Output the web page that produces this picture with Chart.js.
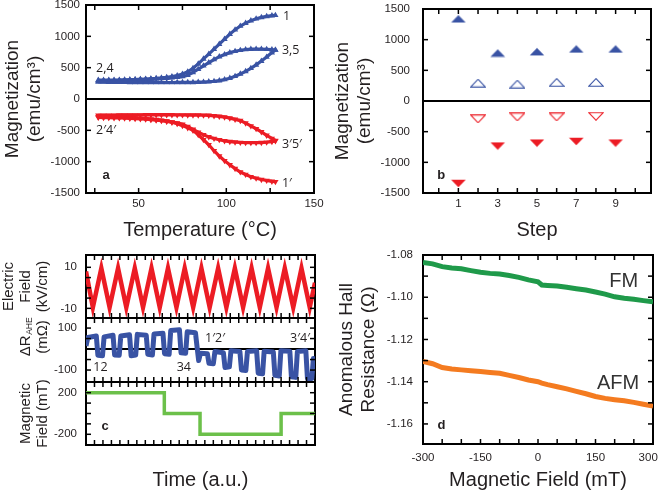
<!DOCTYPE html>
<html><head><meta charset="utf-8">
<script src="https://cdn.jsdelivr.net/npm/chart.js@4"></script>
<style>
body{margin:0;background:#fff;width:660px;height:492px;position:relative;overflow:hidden}
canvas{position:absolute}
</style></head><body>
<canvas id="ca" width="330" height="246" style="left:0;top:0"></canvas>
<canvas id="cb" width="330" height="246" style="left:330px;top:0"></canvas>
<canvas id="cc1" width="330" height="70" style="left:0;top:250px"></canvas>
<canvas id="cc2" width="330" height="73" style="left:0;top:313px"></canvas>
<canvas id="cc3" width="330" height="115" style="left:0;top:377px"></canvas>
<canvas id="cd" width="330" height="246" style="left:330px;top:246px"></canvas>
<script>
// ---------- Panel a data ----------
const aTemp = [27,30,33,36,39,42,45,48,51,54,57,60,63,66,69,72,75,78,81,84,87,90,93,96,99,102,105,108,111,114,117,120,123,126,128];
const aBlue1 = [290,291,293,295,298,301,304,308,312,316,322,328,336,346,358,375,398,435,490,560,640,715,795,875,955,1035,1105,1165,1210,1250,1280,1302,1318,1330,1336];
const aBlue35Upper = [300,300,301,302,303,305,307,309,312,315,318,322,327,333,340,348,358,380,425,475,530,580,630,675,710,740,762,778,790,796,798,797,794,788,782];
const aBlue35Lower = [272,271,270,269,268,267,266,265,265,264,264,263,263,263,263,264,264,265,266,268,271,276,283,294,310,332,362,400,440,490,545,605,670,740,782];
const aRed1 = [-285,-286,-288,-290,-292,-295,-298,-302,-307,-313,-320,-328,-338,-352,-370,-395,-425,-460,-500,-570,-650,-730,-825,-910,-985,-1050,-1110,-1165,-1205,-1240,-1265,-1285,-1300,-1315,-1320];
const aRed35Lower = [-295,-296,-298,-300,-302,-305,-308,-312,-317,-323,-330,-338,-346,-356,-368,-382,-405,-440,-485,-530,-570,-605,-630,-650,-668,-680,-688,-694,-697,-698,-698,-696,-690,-680,-668];
const aRed35Upper = [-262,-261,-260,-259,-258,-257,-256,-255,-255,-254,-254,-254,-254,-254,-254,-255,-255,-256,-257,-258,-259,-262,-268,-276,-288,-305,-325,-345,-385,-430,-475,-525,-580,-630,-662];
const aXTicks = [25,50,75,100,125,150];
const aXLabels = [50,100,150];
const magTicks = [-1500,-1000,-500,0,500,1000,1500];
const aNoteText = ['1','3,5','2,4','2′4′','3′5′','1′'];
const aNoteX = [132.3,131.7,25.7,25.7,131.7,131.7];
const aNoteY = [1324,781,494,-494,-718,-1340];

// ---------- Panel b data ----------
const bStepsFilled = [1,3,5,7,9];
const bBlueFilled = [1340,782,803,848,848];
const bRedFilled = [-1345,-734,-686,-660,-686];
const bStepsOpen = [2,4,6,8];
const bBlueOpen = [292,276,303,303];
const bRedOpen = [-292,-260,-260,-250];
const bXTicks = [0,1,2,3,4,5,6,7,8,9,10];
const bXLabels = [1,3,5,7,9];

// ---------- Panel c data ----------
const eTime = [0,0.030,0.067,0.103,0.140,0.176,0.213,0.249,0.286,0.322,0.358,0.395,0.431,0.468,0.504,0.540,0.577,0.613,0.650,0.686,0.723,0.759,0.795,0.832,0.868,0.905,0.941,0.977,1.0];
const eField = [8,-9.5,9.5,-9.5,9.5,-9.5,9.5,-9.5,9.5,-9.5,9.5,-9.5,9.5,-9.5,9.5,-9.5,9.5,-9.5,9.5,-9.5,9.5,-9.5,9.5,-9.5,9.5,-9.5,9.5,-9.5,2.5];
const rTime = [0,0.008,0.045,0.052,0.072,0.079,0.118,0.125,0.145,0.152,0.190,0.197,0.217,0.224,0.263,0.270,0.290,0.297,0.336,0.343,0.363,0.370,0.408,0.415,0.435,0.442,0.478,0.486,0.492,0.500,0.530,0.537,0.556,0.563,0.600,0.607,0.626,0.633,0.672,0.679,0.698,0.705,0.745,0.752,0.771,0.778,0.818,0.825,0.844,0.851,0.890,0.897,0.916,0.923,0.960,0.967,0.986,0.993,1.0];
const rAHE = [15,55,62,-30,-32,58,66,-28,-30,62,68,-32,-28,70,66,-25,-28,72,75,-22,-25,88,92,-18,-20,82,78,0,-55,-20,-22,-68,-70,-12,-18,-88,-85,-8,-12,-100,-102,-12,-8,-115,-118,-10,-14,-125,-128,-8,-10,-132,-135,-12,-8,-140,-140,-45,-95];
const bTime = [0,0.342,0.342,0.498,0.498,0.852,0.852,1.0];
const bField = [200,200,0,0,-200,-200,0,0];
const tTicks = [0.037,0.074,0.111,0.148,0.185,0.222,0.259,0.296,0.333,0.370,0.407,0.444,0.481,0.519,0.556,0.593,0.630,0.667,0.704,0.741,0.778,0.815,0.852,0.889,0.926,0.963];
const eTicks = [-10,-5,0,5,10];
const eLabels = [-10,10];
const rTicks = [-150,-100,-50,0,50,100];
const rLabels = [-100,100];
const fTicks = [-300,-200,-100,0,100,200,300];
const fLabels = [-200,200];
const cNoteText = ['12','34','1′2′','3′4′'];
const cNoteX = [0.032,0.396,0.52,0.891];
const cNoteY = [-87,-87,49,49];

// ---------- Panel d data ----------
const dField = [-300,-275,-250,-225,-200,-175,-150,-125,-100,-75,-50,-25,0,10,25,50,75,100,125,150,175,200,225,250,275,300];
const dFM = [-1.0835,-1.0842,-1.0855,-1.0862,-1.0865,-1.0874,-1.0882,-1.0887,-1.0890,-1.0897,-1.0906,-1.0918,-1.0927,-1.0942,-1.0944,-1.0947,-1.0953,-1.0960,-1.0966,-1.0975,-1.0985,-1.0998,-1.1005,-1.1010,-1.1016,-1.1022];
const dAFM = [-1.1304,-1.1315,-1.1333,-1.1340,-1.1344,-1.1348,-1.1352,-1.1356,-1.1360,-1.1370,-1.1380,-1.1392,-1.1400,-1.1407,-1.1414,-1.1424,-1.1434,-1.1446,-1.1457,-1.1470,-1.1479,-1.1485,-1.1490,-1.1498,-1.1507,-1.1515];
const dXTicks = [-300,-250,-200,-150,-100,-50,0,50,100,150,200,250,300];
const dXLabels = [-300,-150,0,150,300];
const dYTicks = [-1.16,-1.15,-1.14,-1.13,-1.12,-1.11,-1.10,-1.09,-1.08];
const dYLabels = [-1.16,-1.14,-1.12,-1.10,-1.08];

// ---------- styling ----------
const FF = '"Liberation Sans", Arial, Helvetica, sans-serif';
const NF = '"Open Sans", "Liberation Sans", sans-serif';
const TXT = '#231f20';
const BLUE = '#3953a4', RED = '#ec1c24', GREEN_C = '#6cc04a', GREEN_D = '#1f9a4a', ORANGE = '#f47b20';
Chart.defaults.font.family = FF;
Chart.defaults.color = TXT;
Chart.defaults.animation = false;

const pts = (xs, ys) => xs.map((x, i) => ({x: x, y: ys[i]}));

function mkAxis(o) {
  const isX = o.pos === 'top' || o.pos === 'bottom';
  const zero = !!o.zero;
  return {
    type: 'linear', axis: isX ? 'x' : 'y', position: o.pos, min: o.min, max: o.max,
    afterBuildTicks: ax => { ax.ticks = o.ticks.map(v => ({value: v})); },
    afterFit: ax => {
      if (isX) ax.height = o.size; else ax.width = o.size;
      ax.paddingTop = 0; ax.paddingBottom = 0; ax.paddingLeft = 0; ax.paddingRight = 0;
    },
    border: {display: true, color: '#000', width: 2},
    grid: {
      display: true, drawTicks: false,
      drawOnChartArea: zero,
      color: zero ? (c => (c.tick && c.tick.value === 0) ? '#000' : 'rgba(0,0,0,0)') : 'rgba(0,0,0,0)',
      lineWidth: zero ? (c => (c.tick && c.tick.value === 0) ? 2 : 0) : 1
    },
    ticks: {
      display: !!o.labels, autoSkip: false, maxRotation: 0, minRotation: 0,
      padding: o.pad || 0, color: TXT, font: {size: 11.5, family: FF},
      callback: v => (o.labels && o.labels.includes(v)) ? o.fmt(v) : ''
    },
    title: o.title || {display: false}
  };
}

// inward tick marks on all four sides, placed with each scale's own ticks
const inTicksPlugin = {
  id: 'inTicks',
  afterDraw(chart) {
    const ctx = chart.ctx, a = chart.chartArea, L = 5;
    ctx.save();
    ctx.strokeStyle = '#000'; ctx.lineWidth = 1.5; ctx.lineCap = 'butt';
    for (const key of Object.keys(chart.scales)) {
      const s = chart.scales[key];
      const pos = s.options.position;
      for (const t of s.ticks) {
        const p = s.getPixelForValue(t.value);
        if (pos === 'bottom' || pos === 'top') {
          if (p < a.left + 1.5 || p > a.right - 1.5) continue;
          const y0 = pos === 'bottom' ? a.bottom : a.top;
          const dir = pos === 'bottom' ? -1 : 1;
          ctx.beginPath(); ctx.moveTo(p, y0); ctx.lineTo(p, y0 + dir * L); ctx.stroke();
        } else {
          if (p < a.top + 1.5 || p > a.bottom - 1.5) continue;
          const x0 = pos === 'left' ? a.left : a.right;
          const dir = pos === 'left' ? 1 : -1;
          ctx.beginPath(); ctx.moveTo(x0, p); ctx.lineTo(x0 + dir * L, p); ctx.stroke();
        }
      }
    }
    ctx.restore();
  }
};

const textPlugin = {
  id: 'texts',
  afterDatasetsDraw(chart, args, opts) {
    const ctx = chart.ctx, xs = chart.scales.x, ys = chart.scales.y;
    (opts.items || []).forEach(it => {
      ctx.save();
      ctx.font = it.font; ctx.fillStyle = it.color || TXT;
      ctx.textAlign = it.align || 'left'; ctx.textBaseline = 'middle';
      ctx.fillText(it.text, xs.getPixelForValue(it.x), ys.getPixelForValue(it.y));
      ctx.restore();
    });
  }
};

function baseOptions(padding, scales, items) {
  return {
    responsive: false, animation: false,
    layout: {padding: padding},
    plugins: {legend: {display: false}, tooltip: {enabled: false}, texts: {items: items || []}},
    scales: scales
  };
}

const str = v => String(v);

// ---------- Panel a ----------
const aItems = aNoteText.map((t, i) => ({text: t, x: aNoteX[i], y: aNoteY[i], font: '12.5px ' + NF}));
aItems.push({text: 'a', x: 31.4, y: -1212, font: 'bold 13px ' + FF, align: 'center'});
function curve(ys, color, down) {
  return {data: pts(aTemp, ys), borderColor: color, backgroundColor: color, borderWidth: 3.2,
    pointStyle: 'triangle', pointRadius: 3.6, pointRotation: down ? 180 : 0, pointBorderWidth: 0,
    pointBackgroundColor: color, tension: 0};
}
new Chart(document.getElementById('ca'), {
  type: 'line',
  data: {datasets: [
    curve(aBlue35Lower, BLUE), curve(aBlue35Upper, BLUE), curve(aBlue1, BLUE),
    curve(aRed35Upper, RED, true), curve(aRed35Lower, RED, true), curve(aRed1, RED, true)
  ]},
  options: baseOptions({left: 0, top: 5, right: 16, bottom: 0}, {
    x: mkAxis({pos: 'bottom', min: 20, max: 150, ticks: aXTicks, labels: aXLabels, fmt: str, size: 53, pad: 4,
      title: {display: true, text: 'Temperature (°C)', color: TXT, font: {size: 20, family: FF, lineHeight: 1.2}, padding: {top: 0, bottom: 4}}}),
    x2: mkAxis({pos: 'top', min: 20, max: 150, ticks: aXTicks, size: 0}),
    y: mkAxis({pos: 'left', min: -1500, max: 1500, ticks: magTicks, labels: magTicks, fmt: str, size: 86, pad: 6, zero: true,
      title: {display: true, text: ['Magnetization', '(emu/cm³)'], color: TXT, font: {size: 19, family: FF, lineHeight: 1.16}, padding: {top: 2, bottom: 0}}}),
    y2: mkAxis({pos: 'right', min: -1500, max: 1500, ticks: magTicks, size: 0})
  }, aItems),
  plugins: [textPlugin, inTicksPlugin]
});

// ---------- Panel b ----------
function triImg(color, filled, down) {
  const c = document.createElement('canvas');
  c.width = 16; c.height = 9;
  const g = c.getContext('2d');
  g.beginPath();
  if (!down) { g.moveTo(8, 0.7); g.lineTo(15.3, 8.3); g.lineTo(0.7, 8.3); }
  else { g.moveTo(0.7, 0.7); g.lineTo(15.3, 0.7); g.lineTo(8, 8.3); }
  g.closePath();
  if (filled) { g.fillStyle = color; g.fill(); }
  else { g.strokeStyle = color; g.lineWidth = 1.1; g.stroke(); }
  return c;
}
const bItems = [{text: 'b', x: 0.123, y: -1212, font: 'bold 13px ' + FF, align: 'center'}];
function bSet(xs, ys, img) {
  return {data: pts(xs, ys), showLine: false, pointStyle: img, pointRadius: 8, borderColor: 'rgba(0,0,0,0)', backgroundColor: 'rgba(0,0,0,0)'};
}
new Chart(document.getElementById('cb'), {
  type: 'line',
  data: {datasets: [
    bSet(bStepsFilled, bBlueFilled, triImg(BLUE, true, false)),
    bSet(bStepsOpen, bBlueOpen, triImg(BLUE, false, false)),
    bSet(bStepsOpen, bRedOpen, triImg(RED, false, true)),
    bSet(bStepsFilled, bRedFilled, triImg(RED, true, true))
  ]},
  options: baseOptions({left: 0, top: 5, right: 7, bottom: 0}, {
    x: mkAxis({pos: 'bottom', min: -0.8, max: 10.8, ticks: bXTicks, labels: bXLabels, fmt: str, size: 53, pad: 4,
      title: {display: true, text: 'Step', color: TXT, font: {size: 20, family: FF, lineHeight: 1.2}, padding: {top: 0, bottom: 4}}}),
    x2: mkAxis({pos: 'top', min: -0.8, max: 10.8, ticks: bXTicks, size: 0}),
    y: mkAxis({pos: 'left', min: -1500, max: 1500, ticks: magTicks, labels: magTicks, fmt: str, size: 93, pad: 13, zero: true,
      title: {display: true, text: ['Magnetization', '(emu/cm³)'], color: TXT, font: {size: 19, family: FF, lineHeight: 1.16}, padding: {top: 2, bottom: 0}}}),
    y2: mkAxis({pos: 'right', min: -1500, max: 1500, ticks: magTicks, size: 0})
  }, bItems),
  plugins: [textPlugin, inTicksPlugin]
});

// ---------- Panel c ----------
function cX(size, title) {
  return {
    x: mkAxis({pos: 'bottom', min: 0, max: 1, ticks: tTicks, size: size, title: title}),
    x2: mkAxis({pos: 'top', min: 0, max: 1, ticks: tTicks, size: 0})
  };
}
const smallTitle = (lines, padTop) => ({display: true, text: lines, color: TXT, font: {size: 15, family: FF, lineHeight: 1.133}, padding: {top: padTop, bottom: 0}});

new Chart(document.getElementById('cc1'), {
  type: 'line',
  data: {datasets: [{data: pts(eTime, eField), borderColor: RED, borderWidth: 4.5, pointRadius: 0, tension: 0}]},
  options: baseOptions({left: 0, top: 5, right: 15, bottom: 0}, Object.assign(cX(2), {
    y: mkAxis({pos: 'left', min: -14.7, max: 16, ticks: eTicks, labels: eLabels, fmt: str, size: 86, pad: 9,
      title: smallTitle(['Electric', 'Field', '(kV/cm)'], 0)}),
    y2: mkAxis({pos: 'right', min: -14.7, max: 16, ticks: eTicks, size: 0})
  })),
  plugins: [textPlugin, inTicksPlugin]
});

const rTitlePlugin = {
  id: 'rTitle',
  afterDraw(chart) {
    const ctx = chart.ctx, a = chart.chartArea;
    const cy = (a.top + a.bottom) / 2 - 13;
    ctx.save();
    ctx.fillStyle = TXT; ctx.textBaseline = 'middle';
    ctx.translate(25.5, cy); ctx.rotate(-Math.PI / 2);
    ctx.font = '15px ' + FF;
    const w1 = ctx.measureText('ΔR').width;
    ctx.font = '8.5px ' + FF;
    const w2 = ctx.measureText('AHE').width;
    const start = -(w1 + w2) / 2;
    ctx.textAlign = 'left';
    ctx.font = '15px ' + FF; ctx.fillText('ΔR', start, 0);
    ctx.font = '8.5px ' + FF; ctx.fillText('AHE', start + w1 + 0.5, 4);
    ctx.restore();
    ctx.save();
    ctx.fillStyle = TXT; ctx.textBaseline = 'middle'; ctx.textAlign = 'center';
    ctx.translate(42.5, cy); ctx.rotate(-Math.PI / 2);
    ctx.font = '15px ' + FF; ctx.fillText('(mΩ)', 0, 0);
    ctx.restore();
  }
};
const c2Items = cNoteText.map((t, i) => ({text: t, x: cNoteX[i], y: cNoteY[i], font: '12.5px ' + NF}));
new Chart(document.getElementById('cc2'), {
  type: 'line',
  data: {datasets: [{data: pts(rTime, rAHE), borderColor: BLUE, borderWidth: 5, pointRadius: 0, tension: 0, borderJoinStyle: 'round'}]},
  options: baseOptions({left: 0, top: 5, right: 15, bottom: 0}, Object.assign(cX(4), {
    y: mkAxis({pos: 'left', min: -157, max: 148, ticks: rTicks, labels: rLabels, fmt: str, size: 86, pad: 9, zero: true}),
    y2: mkAxis({pos: 'right', min: -157, max: 148, ticks: rTicks, size: 0})
  }), c2Items),
  plugins: [textPlugin, rTitlePlugin, inTicksPlugin]
});

new Chart(document.getElementById('cc3'), {
  type: 'line',
  data: {datasets: [{data: pts(bTime, bField), borderColor: GREEN_C, borderWidth: 3.5, pointRadius: 0, tension: 0}]},
  options: baseOptions({left: 0, top: 5, right: 15, bottom: 0}, Object.assign(cX(47,
      {display: true, text: 'Time (a.u.)', color: TXT, font: {size: 20, family: FF, lineHeight: 1.2}, padding: {top: 0, bottom: 0}}), {
    y: mkAxis({pos: 'left', min: -303, max: 303, ticks: fTicks, labels: fLabels, fmt: str, size: 86, pad: 9,
      title: smallTitle(['Magnetic', 'Field (mT)'], 17)}),
    y2: mkAxis({pos: 'right', min: -303, max: 303, ticks: fTicks, size: 0})
  }), [{text: 'c', x: 0.083, y: -127, font: 'bold 13px ' + FF, align: 'center'}]),
  plugins: [textPlugin, inTicksPlugin]
});

// ---------- Panel d ----------
const dItems = [
  {text: 'FM', x: 186, y: -1.0926, font: '20px ' + FF, color: '#333'},
  {text: 'AFM', x: 154, y: -1.141, font: '20px ' + FF, color: '#333'},
  {text: 'd', x: -252, y: -1.1608, font: 'bold 13px ' + FF, align: 'center'}
];
new Chart(document.getElementById('cd'), {
  type: 'line',
  data: {datasets: [
    {data: pts(dField, dFM), borderColor: GREEN_D, borderWidth: 5, pointRadius: 0, tension: 0},
    {data: pts(dField, dAFM), borderColor: ORANGE, borderWidth: 5, pointRadius: 0, tension: 0}
  ]},
  options: baseOptions({left: 0, top: 9, right: 7, bottom: 0}, {
    x: mkAxis({pos: 'bottom', min: -300, max: 300, ticks: dXTicks, labels: dXLabels, fmt: v => v === 300 ? '300   ' : String(v), size: 48, pad: 7,
      title: {display: true, text: 'Magnetic Field (mT)', color: TXT, font: {size: 20, family: FF, lineHeight: 1.2}, padding: {top: 0, bottom: 0}}}),
    x2: mkAxis({pos: 'top', min: -300, max: 300, ticks: dXTicks, size: 0}),
    y: mkAxis({pos: 'left', min: -1.1695, max: -1.08, ticks: dYTicks, labels: dYLabels, fmt: v => v.toFixed(2), size: 93, pad: 10,
      title: {display: true, text: ['Anomalous Hall', 'Resistance (Ω)'], color: TXT, font: {size: 19, family: FF, lineHeight: 1.16}, padding: {top: 5.5, bottom: 0}}}),
    y2: mkAxis({pos: 'right', min: -1.1695, max: -1.08, ticks: dYTicks, size: 0})
  }, dItems),
  plugins: [textPlugin, inTicksPlugin]
});
</script>
</body></html>
